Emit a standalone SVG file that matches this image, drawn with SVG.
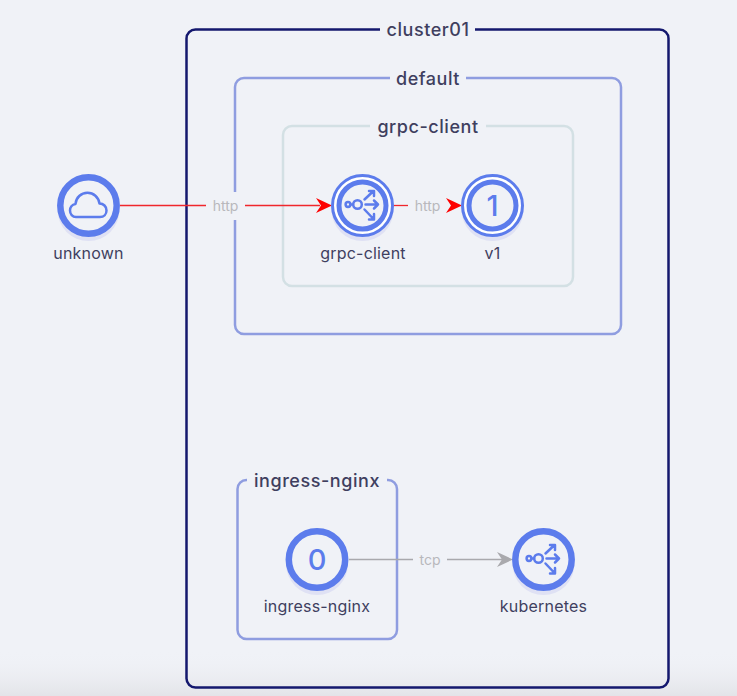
<svg xmlns="http://www.w3.org/2000/svg" width="737" height="696" viewBox="0 0 737 696">
<style>
text{font-family:Inter,"Liberation Sans",sans-serif;text-anchor:middle;fill:#3f3f5f}
.t{font-size:18px;font-weight:500;letter-spacing:.55px}
.n{font-size:16px;letter-spacing:.2px}
.e{font-size:14px;fill:#b8b8bc}
.box{fill:none;rx:9px}
.bg{fill:#f0f2f7}
.sh{fill:#dfe1f4}
.ring{fill:#f0f2f7;stroke:#5c7cec;stroke-width:6.5}
.r1{fill:#fff;stroke:#5c7cec;stroke-width:3}
.r2{fill:#f0f2f7;stroke:#5c7cec;stroke-width:5}
.i{fill:none;stroke:#5c7cec;stroke-width:2.500;stroke-linecap:round;stroke-linejoin:round}
.d{font-size:29px;font-weight:500;fill:#5c7cec}
.red{stroke:#f0272c;stroke-width:1.3;fill:none}
.gr{stroke:#a9a9ad;stroke-width:1.5;fill:none}
</style>
<defs>
<linearGradient id="fade" x1="0" y1="0" x2="0" y2="1"><stop offset="0" stop-color="#f0f2f7" stop-opacity="0"/><stop offset="1" stop-color="#e3e4e8"/></linearGradient>
<g id="svc" class="i"><circle cx="-14.500" cy="-1" r="2.400"/><circle cx="-5" cy="-1" r="4.300"/><path d="M-12,-1H-9.500M2,-6L11,-14.500M6.500,-14.500H11.500V-9.500M3,-1H15.500M11.500,-5L15.500,-1L11.500,3M2,4L11,13.500M11.500,8.500V14H6.500"/></g>
</defs>
<rect width="737" height="696" class="bg"/>
<rect y="650" width="737" height="46" fill="url(#fade)"/>
<g id="cluster01"><rect class="box" x="186.500" y="29.500" width="482" height="658" stroke="#14186e" stroke-width="2.500"/><rect class="bg" x="380" y="22" width="95" height="16"/><text class="t" x="428" y="35.500">cluster01</text></g>
<g id="ns-default"><rect class="box" x="235" y="78" width="386" height="256" stroke="#8f9de0" stroke-width="2.500"/><rect class="bg" x="390" y="70" width="76" height="16"/><text class="t" x="428" y="84.500">default</text></g>
<g id="app-grpc-client"><rect class="box" x="283" y="126" width="290" height="160" stroke="#d3e0e4" stroke-width="2.500"/><rect class="bg" x="370" y="118" width="116" height="16"/><text class="t" x="428" y="133">grpc-client</text></g>
<g id="ns-ingress-nginx"><rect class="box" x="237.500" y="480" width="159.500" height="159" stroke="#8f9de0" stroke-width="2.500"/><rect class="bg" x="247" y="472" width="140" height="16"/><text class="t" x="317" y="487">ingress-nginx</text></g>
<g id="connectors">
<path class="red" d="M120,205.500H206M245,205.500H320"/>
<rect class="bg" x="228" y="192" width="17" height="28"/>
<path d="M332,205.500L316,198L321,205.500L316,213Z" fill="#fe0000"/>
<text class="e" x="225.500" y="210.500">http</text>
<path class="red" d="M394,205.500H408"/>
<path d="M462,205.500L446,198L451,205.500L446,213Z" fill="#fe0000"/>
<text class="e" x="427.500" y="210.500">http</text>
<path class="gr" d="M349,559.500H413M447,559.500H505"/>
<path d="M513,559.500L497,552L502,559.500L497,567Z" fill="#a9a9ad"/>
<text class="e" x="430" y="565">tcp</text>
</g>
<g id="node-unknown"><circle class="sh" cx="88.500" cy="210" r="31"/><circle class="ring" cx="88.500" cy="205.500" r="28.200"/><path class="i" d="M76,217H100C104,217 106.500,214 106.500,210.500C106.500,206.500 103.500,203.500 99.500,203.500C98.500,197 93.500,192.800 87.500,192.800C81,192.800 76,197.500 75.500,204C72,204.500 70,207.500 70,210.500C70,214 72.500,217 76,217Z"/><text class="n" x="88.500" y="259">unknown</text></g>
<g id="node-grpc-client"><circle class="sh" cx="362.500" cy="210" r="31"/><circle class="r1" cx="362.500" cy="205.500" r="30"/><circle class="r2" cx="362.500" cy="205.500" r="23.500"/><use href="#svc" x="362.500" y="205.500"/><text class="n" x="363" y="259">grpc-client</text></g>
<g id="node-v1"><circle class="sh" cx="492.500" cy="210" r="31"/><circle class="r1" cx="492.500" cy="205.500" r="30"/><circle class="r2" cx="492.500" cy="205.500" r="23.500"/><text class="d" x="492.500" y="215.500">1</text><text class="n" x="492.500" y="259">v1</text></g>
<g id="node-ingress-nginx"><circle class="sh" cx="317" cy="564" r="31"/><circle class="ring" cx="317" cy="559.500" r="28.200"/><text class="d" x="317" y="570">0</text><text class="n" x="317" y="612">ingress-nginx</text></g>
<g id="node-kubernetes"><circle class="sh" cx="543.500" cy="564" r="31"/><circle class="ring" cx="543.500" cy="559.500" r="28.200"/><use href="#svc" x="543.500" y="559.500"/><text class="n" x="543.500" y="612">kubernetes</text></g>
</svg>
